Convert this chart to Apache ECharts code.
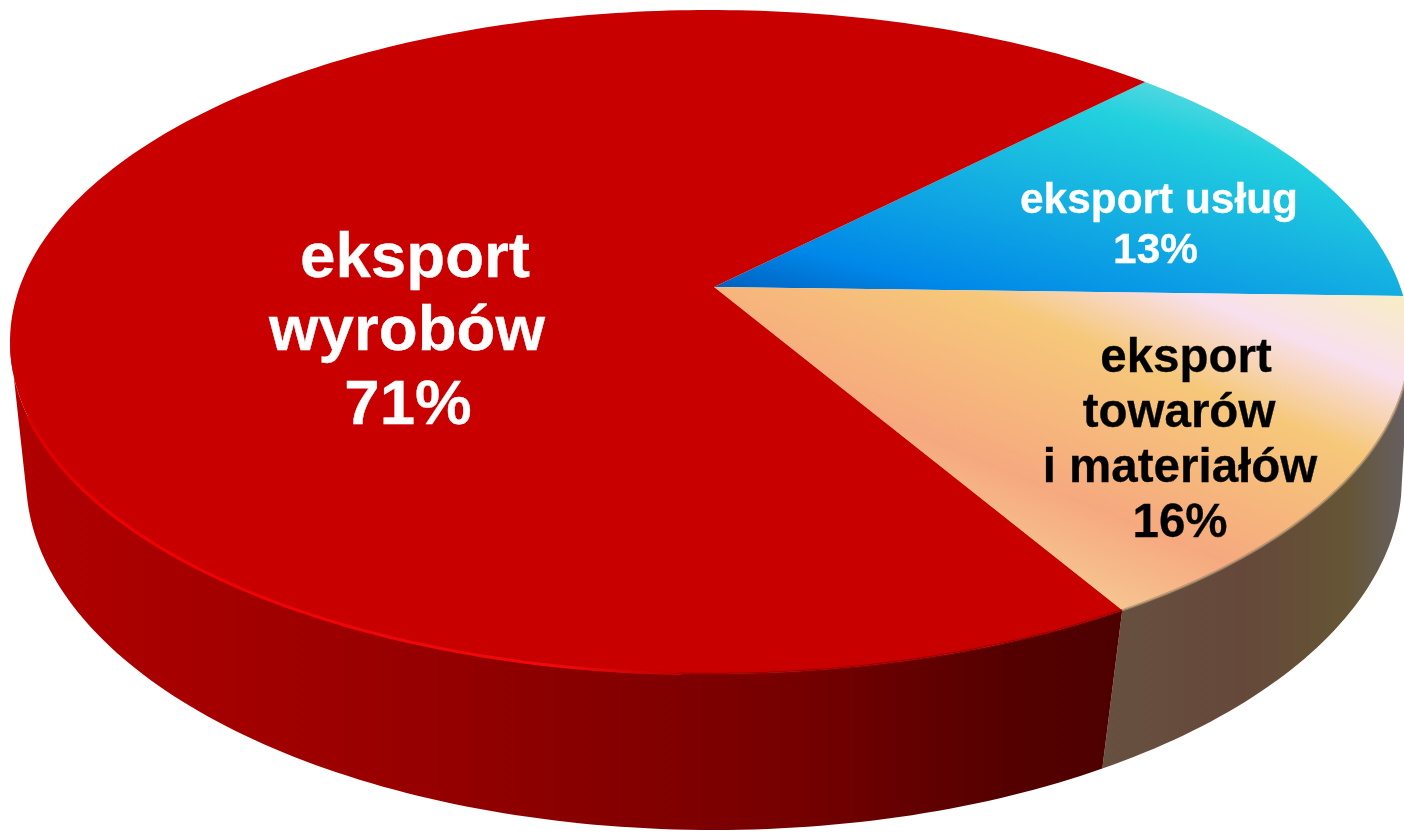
<!DOCTYPE html>
<html>
<head>
<meta charset="utf-8">
<style>html,body{margin:0;padding:0;background:#fff}#c{width:1404px;height:833px}</style>
<script src="https://cdn.jsdelivr.net/npm/echarts@6/dist/echarts.min.js"></script>
</head>
<body>
<div id="c"></div>
<script>
const categories = ['eksport usług', 'eksport towarów i materiałów', 'eksport wyrobów'];
const shares = [13, 16, 71];
const labelLines = [['eksport usług'], ['eksport', 'towarów', 'i materiałów'], ['eksport', 'wyrobów']];

const startAngle = 45.2;
const topDisc = {cx: 710, cy: 342, rx: 700, ry: 332, k: -0.166};
const baseDisc = {cx: 714, cy: 478, rx: 688, ry: 352, k: -0.115};
const apexShift = 4;
const wallFrom = -9.6, wallTo = -170.4;

const G = echarts.graphic.LinearGradient;
const hGrad = (x0, x1, stops) => new G(x0, 0, x1, 0, stops, true);
const topFills = [
  new G(985, 358, 1062, 57, [
    {offset: 0, color: '#0060c0'}, {offset: 0.19, color: '#0088e8'},
    {offset: 0.54, color: '#14aee2'}, {offset: 0.855, color: '#22d0de'}, {offset: 1, color: '#52d8e0'}], true),
  new G(1115, 605, 1264, 244, [
    {offset: 0, color: '#f6c490'}, {offset: 0.21, color: '#f6a97f'},
    {offset: 0.6, color: '#f6c87a'}, {offset: 0.81, color: '#f8e0ee'}, {offset: 1, color: '#f8ecc8'}], true),
  '#c80000'
];
const wallFills = [
  '#0b7fc0',
  hGrad(1110, 1404, [{offset: 0, color: '#675040'}, {offset: 0.45, color: '#65483a'},
    {offset: 0.8, color: '#655535'}, {offset: 1, color: '#665f60'}]),
  hGrad(30, 1115, [{offset: 0, color: '#b00000'}, {offset: 0.34, color: '#980000'},
    {offset: 0.71, color: '#750000'}, {offset: 0.9, color: '#550000'}, {offset: 1, color: '#4e0000'}])
];
const labelStyles = [
  {xs: [1159, 1155.5], bases: [213, 263], size: 42.4, color: '#fff'},
  {xs: [1186, 1179, 1180, 1180], bases: [372, 427, 482, 537], size: 47.5, color: '#000'},
  {xs: [415, 407, 408], bases: [277, 350, 424], size: 63.7, color: '#fff'}
];

function project(d, deg) {
  const t = deg * Math.PI / 180, u = Math.cos(t), v = -Math.sin(t);
  const w = 1 + d.k * v, s = Math.sqrt(1 - d.k * d.k);
  return [d.cx + d.rx * u * s / w, d.cy + d.ry * (v + d.k) / w];
}
function arc(d, a0, a1) {
  const n = Math.max(2, Math.ceil(Math.abs(a1 - a0)));
  const pts = [];
  for (let i = 0; i <= n; i++) pts.push(project(d, a0 + (a1 - a0) * i / n));
  return pts;
}
function sweep(index) {
  let a = startAngle;
  for (let i = 0; i < index; i++) a -= shares[i] * 3.6;
  return [a, a - shares[index] * 3.6];
}

function renderItem(params, api) {
  const i = params.dataIndex, value = api.value(0);
  const [a0, a1] = sweep(i);
  const children = [];
  const apexPt = [topDisc.cx + apexShift, topDisc.cy + topDisc.ry * topDisc.k];
  children.push({type: 'polygon', z2: 3, shape: {points: [apexPt].concat(arc(topDisc, a0, a1))},
    style: {fill: topFills[i]}});
  const w0 = Math.min(a0, wallFrom), w1 = Math.max(a1, wallTo);
  if (w0 > w1) {
    children.push({type: 'polygon', z2: 1,
      shape: {points: arc(topDisc, w0, w1).concat(arc(baseDisc, w1, w0))},
      style: {fill: wallFills[i]}});
  }
  if (i === 1) {
    children.push({type: 'polyline', z2: 4, shape: {points: arc(topDisc, w0, w1)},
      style: {fill: 'none', lineWidth: 2.5, stroke: '#a88a68', opacity: 0.7}});
  }
  if (i === 2) {
    children.push({type: 'polyline', z2: 4, shape: {points: arc(topDisc, a0, -95)},
      style: {fill: 'none', lineWidth: 2.5, stroke: '#8c0000', opacity: 0.7}});
    children.push({type: 'polyline', z2: 4, shape: {points: arc(topDisc, -92, -158)},
      style: {fill: 'none', lineWidth: 3, stroke: new G(15, 0, 700, 0, [
        {offset: 0, color: '#d80000'}, {offset: 0.1, color: '#ee0000'},
        {offset: 0.8, color: '#f00a0a'}, {offset: 1, color: '#b00000'}], true)}});
  }
  const ls = labelStyles[i];
  labelLines[i].concat([value + '%']).forEach((line, n) => {
    children.push({type: 'text', z2: 6, style: {
      x: ls.xs[n], y: ls.bases[n] - 0.27 * ls.size, text: line,
      align: 'center', verticalAlign: 'middle',
      fill: ls.color, stroke: ls.color, lineWidth: 0.3,
      font: 'bold ' + ls.size + 'px "Liberation Sans", Arial, sans-serif'}});
  });
  return {type: 'group', children};
}

const chart = echarts.init(document.getElementById('c'), null, {renderer: 'canvas'});
chart.setOption({
  animation: false,
  backgroundColor: '#fff',
  series: [{
    type: 'custom',
    coordinateSystem: 'none',
    silent: true,
    renderItem,
    data: categories.map((name, i) => ({name, value: [shares[i]]}))
  }]
});
</script>
</body>
</html>
